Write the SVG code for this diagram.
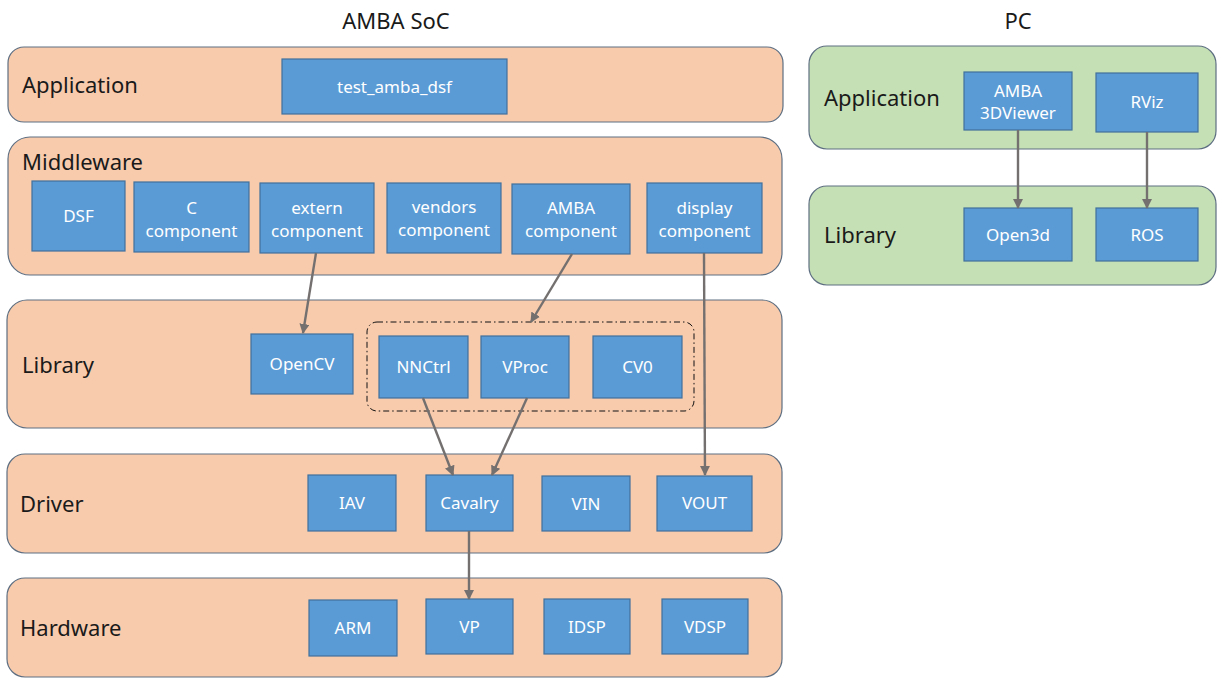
<svg xmlns="http://www.w3.org/2000/svg" width="1229" height="690" viewBox="0 0 1229 690">
<style>
.layer{fill:#F8CBAD;stroke:#5E6F82;stroke-width:1.2}
.pc{fill:#C5E0B4;stroke:#5E6F82;stroke-width:1.2}
.box{fill:#5B9BD5;stroke:#41719C;stroke-width:1.2}
.lt{font-family:"Noto Sans","Liberation Sans",sans-serif;font-size:22px;fill:#1a1a1a}
.title{font-family:"Noto Sans","Liberation Sans",sans-serif;font-size:22px;fill:#1a1a1a;text-anchor:middle}
.bt{font-family:"Noto Sans","Liberation Sans",sans-serif;font-size:17px;fill:#ffffff;text-anchor:middle}
.conn{stroke:#747070;stroke-width:2.4;fill:none;marker-end:url(#ah)}
.dash{fill:none;stroke:#111;stroke-width:1;stroke-dasharray:6 3 1.5 3}
</style>
<defs>
<marker id="ah" viewBox="0 0 10 10" refX="9" refY="5" markerWidth="4.2" markerHeight="4.2" orient="auto" markerUnits="strokeWidth">
<path d="M0,0 L10,5 L0,10 Z" fill="#747070"/>
</marker>
</defs>

<text class="title" x="396" y="29">AMBA SoC</text>
<text class="title" x="1018" y="29">PC</text>

<g id="layer-application">
<rect class="layer" x="8" y="47" width="775" height="75" rx="16"/>
<text class="lt" x="22" y="93">Application</text>
</g>
<g id="layer-middleware">
<rect class="layer" x="8" y="137" width="774" height="138" rx="22"/>
<text class="lt" x="22" y="170">Middleware</text>
</g>
<g id="layer-library">
<rect class="layer" x="7" y="300" width="775" height="128" rx="20"/>
<text class="lt" x="22" y="373">Library</text>
</g>
<g id="layer-driver">
<rect class="layer" x="7" y="454" width="775" height="99" rx="18"/>
<text class="lt" x="20" y="512">Driver</text>
</g>
<g id="layer-hardware">
<rect class="layer" x="7" y="578" width="775" height="99" rx="18"/>
<text class="lt" x="20" y="636">Hardware</text>
</g>
<g id="pc-application">
<rect class="pc" x="809" y="46" width="407" height="103" rx="18"/>
<text class="lt" x="824" y="106">Application</text>
</g>
<g id="pc-library">
<rect class="pc" x="809" y="186" width="407" height="99" rx="18"/>
<text class="lt" x="824" y="243">Library</text>
</g>

<g id="dashed-group">
<rect class="dash" x="367" y="322" width="327" height="89" rx="10"/>
</g>

<g id="test_amba_dsf"><rect class="box" x="282" y="59" width="225" height="55"/><text class="bt" x="394.5" y="93">test_amba_dsf</text></g>
<g id="dsf"><rect class="box" x="32" y="181" width="93" height="70"/><text class="bt" x="78.5" y="222">DSF</text></g>
<g id="c-component"><rect class="box" x="134" y="182" width="115" height="70"/><text class="bt" x="191.5" y="214">C</text><text class="bt" x="191.5" y="237">component</text></g>
<g id="extern-component"><rect class="box" x="260" y="183" width="114" height="70"/><text class="bt" x="317" y="214">extern</text><text class="bt" x="317" y="237">component</text></g>
<g id="vendors-component"><rect class="box" x="387" y="183" width="114" height="70"/><text class="bt" x="444" y="213">vendors</text><text class="bt" x="444" y="236">component</text></g>
<g id="amba-component"><rect class="box" x="512" y="184" width="118" height="70"/><text class="bt" x="571" y="214">AMBA</text><text class="bt" x="571" y="237">component</text></g>
<g id="display-component"><rect class="box" x="647" y="183" width="115" height="70"/><text class="bt" x="704.5" y="214">display</text><text class="bt" x="704.5" y="237">component</text></g>

<g id="opencv"><rect class="box" x="251" y="334" width="102" height="60"/><text class="bt" x="302" y="370">OpenCV</text></g>
<g id="nnctrl"><rect class="box" x="379" y="336" width="89" height="62"/><text class="bt" x="423.5" y="373">NNCtrl</text></g>
<g id="vproc"><rect class="box" x="481" y="336" width="88" height="62"/><text class="bt" x="525" y="373">VProc</text></g>
<g id="cv0"><rect class="box" x="593" y="336" width="89" height="62"/><text class="bt" x="637.5" y="373">CV0</text></g>

<g id="iav"><rect class="box" x="308" y="475" width="88" height="56"/><text class="bt" x="352" y="509">IAV</text></g>
<g id="cavalry"><rect class="box" x="426" y="475" width="87" height="56"/><text class="bt" x="469.5" y="509">Cavalry</text></g>
<g id="vin"><rect class="box" x="542" y="476" width="88" height="55"/><text class="bt" x="586" y="510">VIN</text></g>
<g id="vout"><rect class="box" x="657" y="476" width="95" height="55"/><text class="bt" x="704.5" y="509">VOUT</text></g>

<g id="arm"><rect class="box" x="309" y="600" width="88" height="56"/><text class="bt" x="353" y="634">ARM</text></g>
<g id="vp"><rect class="box" x="426" y="599" width="87" height="55"/><text class="bt" x="469.5" y="633">VP</text></g>
<g id="idsp"><rect class="box" x="544" y="599" width="86" height="55"/><text class="bt" x="587" y="633">IDSP</text></g>
<g id="vdsp"><rect class="box" x="662" y="599" width="86" height="55"/><text class="bt" x="705" y="633">VDSP</text></g>

<g id="amba-3dviewer"><rect class="box" x="964" y="72" width="108" height="58"/><text class="bt" x="1018" y="97">AMBA</text><text class="bt" x="1018" y="119">3DViewer</text></g>
<g id="rviz"><rect class="box" x="1096" y="73" width="102" height="59"/><text class="bt" x="1147" y="108">RViz</text></g>
<g id="open3d"><rect class="box" x="964" y="208" width="108" height="53"/><text class="bt" x="1018" y="241">Open3d</text></g>
<g id="ros"><rect class="box" x="1096" y="208" width="102" height="53"/><text class="bt" x="1147" y="241">ROS</text></g>

<g id="connectors">
<line class="conn" x1="316" y1="253" x2="303" y2="333"/>
<line class="conn" x1="572" y1="254" x2="531" y2="322"/>
<line class="conn" x1="704" y1="253" x2="705" y2="475"/>
<line class="conn" x1="423" y1="398" x2="453" y2="475"/>
<line class="conn" x1="527" y1="398" x2="492" y2="475"/>
<line class="conn" x1="469" y1="531" x2="469" y2="599"/>
<line class="conn" x1="1018" y1="130" x2="1018" y2="208"/>
<line class="conn" x1="1147" y1="132" x2="1147" y2="208"/>
</g>
</svg>
